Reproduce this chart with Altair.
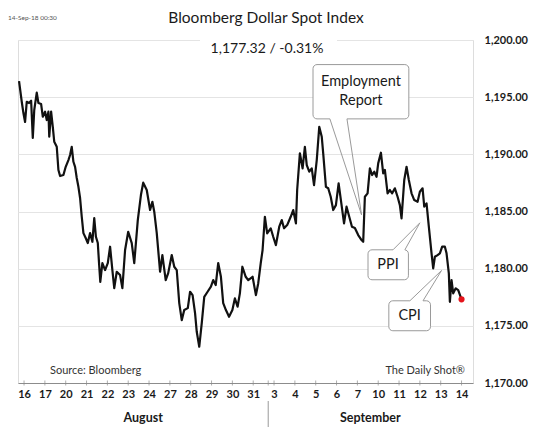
import altair as alt
import pandas as pd

# ---- data ----
day_labels = ["16", "17", "20", "21", "22", "23", "24", "27", "28", "29", "30", "31",
              "3", "4", "5", "6", "7", "10", "11", "12", "13", "14"]

# time in trading days (0 = Aug 16 00:00, 21 = Sep 14 00:00)
t_vals = [-0.24, -0.11, -0.03, 0.05, 0.13, 0.24, 0.34, 0.42, 0.49, 0.61,
          0.69, 0.82, 0.90, 1.01, 1.09, 1.17, 1.21, 1.30, 1.38, 1.45,
          1.57, 1.65, 1.73, 1.89, 2.00, 2.13, 2.21, 2.29, 2.37, 2.45,
          2.53, 2.61, 2.69, 2.77, 2.85, 2.96, 3.06, 3.17, 3.28, 3.37,
          3.45, 3.54, 3.60, 3.66, 3.76, 3.89, 4.02, 4.13, 4.24, 4.33,
          4.45, 4.61, 4.72, 4.85, 5.00, 5.17, 5.29, 5.46, 5.61, 5.72,
          5.89, 6.05, 6.16, 6.25, 6.37, 6.53, 6.64, 6.80, 6.92, 7.09,
          7.21, 7.33, 7.45, 7.57, 7.69, 7.86, 7.97, 8.09, 8.21, 8.29,
          8.41, 8.53, 8.65, 8.81, 8.97, 9.08, 9.20, 9.32, 9.45, 9.56,
          9.69, 9.84, 10.00, 10.12, 10.25, 10.36, 10.48, 10.64, 10.76, 10.97,
          11.13, 11.24, 11.36, 11.45, 11.56, 11.67, 11.84, 11.96, 12.09, 12.25,
          12.37, 12.48, 12.63, 12.80, 12.92, 13.05, 13.11, 13.24, 13.37, 13.48,
          13.57, 13.69, 13.81, 13.92, 14.05, 14.17, 14.29, 14.36, 14.49, 14.60,
          14.72, 14.84, 14.97, 15.10, 15.23, 15.36, 15.48, 15.61, 15.74, 15.88,
          16.04, 16.20, 16.28, 16.36, 16.49, 16.60, 16.71, 16.81, 16.92, 17.00,
          17.13, 17.24, 17.32, 17.45, 17.56, 17.67, 17.80, 17.93, 18.04, 18.12,
          18.25, 18.36, 18.47, 18.60, 18.73, 18.89, 19.00, 19.13, 19.21, 19.32,
          19.43, 19.56, 19.64, 19.72, 19.85, 19.96, 20.07, 20.20, 20.28, 20.39,
          20.44, 20.52, 20.60, 20.72, 20.84, 21.00]

index_vals = [1196.41, 1194.60, 1193.61, 1192.83, 1194.60, 1194.49, 1194.69, 1191.43, 1193.88, 1195.39,
              1194.49, 1194.40, 1193.29, 1193.73, 1193.00, 1193.73, 1191.54, 1193.73, 1192.41, 1191.10,
              1190.66, 1188.63, 1188.10, 1188.19, 1188.91, 1189.50, 1189.94, 1190.66, 1189.35, 1188.91,
              1187.93, 1187.16, 1186.18, 1184.54, 1183.11, 1182.68, 1182.24, 1183.11, 1182.35, 1184.43,
              1182.79, 1182.24, 1180.49, 1178.85, 1180.49, 1179.88, 1180.49, 1181.92, 1179.88, 1178.30,
              1179.73, 1179.44, 1178.30, 1181.63, 1183.23, 1182.24, 1180.49, 1184.25, 1186.44, 1187.52,
              1186.88, 1185.13, 1185.85, 1184.98, 1183.11, 1179.73, 1181.19, 1179.00, 1179.61, 1181.19,
              1180.17, 1179.88, 1176.99, 1175.50, 1176.38, 1176.55, 1177.98, 1177.69, 1176.09, 1174.48,
              1173.17, 1175.24, 1177.54, 1177.98, 1178.42, 1179.00, 1178.56, 1180.49, 1179.29, 1176.99,
              1176.38, 1175.79, 1176.38, 1177.40, 1176.67, 1177.84, 1180.17, 1179.29, 1179.00, 1179.29,
              1177.69, 1178.71, 1180.46, 1181.63, 1184.54, 1183.09, 1183.53, 1182.79, 1182.06, 1183.67,
              1184.25, 1183.53, 1183.81, 1184.54, 1185.13, 1183.96, 1186.88, 1190.09, 1188.77, 1190.66,
              1189.06, 1188.48, 1188.77, 1187.31, 1189.50, 1192.41, 1191.54, 1190.09, 1187.16, 1187.03,
              1186.29, 1185.13, 1185.56, 1187.46, 1185.71, 1183.96, 1185.42, 1184.54, 1183.67, 1183.55,
              1182.94, 1182.50, 1182.35, 1186.29, 1186.59, 1188.77, 1188.19, 1188.48, 1188.04, 1189.21,
              1190.14, 1188.34, 1188.63, 1186.59, 1186.88, 1186.59, 1187.03, 1186.29, 1185.56, 1184.40,
              1187.75, 1188.91, 1187.75, 1186.59, 1186.00, 1185.85, 1186.73, 1187.03, 1185.42, 1185.71,
              1183.67, 1181.34, 1180.03, 1181.04, 1181.19, 1181.34, 1181.92, 1181.92, 1181.34, 1179.59,
              1177.10, 1179.00, 1177.84, 1178.28, 1178.13, 1177.32]

y_ticks = [1170, 1175, 1180, 1185, 1190, 1195, 1200]
month_names = ["August", "September"]
month_pos = [5.72, 16.62]
month_sep = [11.72]
extra_tick = [11.72]

# callouts: box (t1, t2, v_top, v_bottom), pointer base (b1, b2 at v_base), tip (tt, tv)
callout_names = ["Employment", "PPI", "CPI"]
box_t1 = [13.87, 16.51, 17.51]
box_t2 = [18.47, 18.45, 19.51]
box_vtop = [1197.85, 1181.65, 1177.19]
box_vbot = [1193.10, 1179.03, 1174.57]
base_t1 = [14.68, 17.71, 18.52]
base_t2 = [15.50, 18.28, 19.15]
base_v = [1193.10, 1181.65, 1177.19]
tip_t = [16.20, 19.00, 20.04]
tip_v = [1184.71, 1184.01, 1179.84]
text_lines = ["Employment", "Report", "PPI", "CPI"]
text_t = [16.17, 16.17, 17.47, 18.51]
text_v = [1196.33, 1194.70, 1180.30, 1175.88]

title_text = "Bloomberg Dollar Spot Index"
subtitle_text = "1,177.32  /  -0.31%"
stamp_text = "14-Sep-18 00:30"
source_text = "Source: Bloomberg"
brand_text = "The Daily Shot\u00ae"

# ---- chart ----
W, H = 455, 343
FONT = "Lato"
xs = alt.Scale(domain=[-0.29, 21.55], nice=False, zero=False)
ys = alt.Scale(domain=[1170, 1200], nice=False, zero=False)

label_expr = "[" + ",".join("'%s'" % d for d in day_labels) + "][round(datum.value)]"

x_axis = alt.Axis(values=list(range(len(day_labels))), labelExpr=label_expr, grid=False,
                  ticks=False, domainColor="#8c8c8c", domainWidth=1, labelFont=FONT,
                  labelFontWeight="bold", labelFontSize=11, labelColor="#1a1a1a",
                  labelPadding=5, title=None, labelFlush=False, labelOverlap=False)
y_axis = alt.Axis(orient="right", values=y_ticks, format=",.2f", grid=True,
                  gridColor="#e4e4e4", gridWidth=1, domain=False, ticks=False,
                  labelPadding=11, labelFont=FONT, labelFontWeight="bold",
                  labelFontSize=11, labelColor="#1a1a1a", title=None, labelFlush=False,
                  labelAlign="left")


def X(field):
    return alt.X(field, scale=xs, axis=x_axis)


def Y(field):
    return alt.Y(field, scale=ys, axis=y_axis)


df = pd.DataFrame({"t": t_vals, "v": index_vals})

line = alt.Chart(df).mark_line(color="#111111", strokeWidth=2.2, strokeJoin="round").encode(
    x=X("t:Q"), y=Y("v:Q"))

last = alt.Chart(df.tail(1)).mark_circle(color="#e5141b", size=38, opacity=1).encode(
    x=X("t:Q"), y=Y("v:Q"))

tick_df = pd.DataFrame({"t": list(range(len(day_labels))) + extra_tick,
                        "v": [y_ticks[0]] * (len(day_labels) + len(extra_tick))})
ticks = alt.Chart(tick_df).mark_tick(orient="vertical", size=5, thickness=1, color="#8c8c8c").encode(
    x=X("t:Q"), y=Y("v:Q"))

sep = alt.Chart(pd.DataFrame({"t": month_sep})).mark_rule(color="#9a9a9a", strokeWidth=1).encode(
    x=X("t:Q"), y=alt.value(H + 18), y2=alt.value(H + 44))

months = alt.Chart(pd.DataFrame({"t": month_pos, "m": month_names})).mark_text(
    font=FONT, fontSize=12.5, fontWeight="bold", color="#1a1a1a", baseline="middle").encode(
    x=X("t:Q"), y=alt.value(H + 35), text="m:N")

# white backing behind the subtitle, interrupting the top grid line
sub_bg = alt.Chart(pd.DataFrame({"a": [0]})).mark_rect(color="white").encode(
    x=alt.value(182), x2=alt.value(319), y=alt.value(-3), y2=alt.value(3))


def label(text, x, y, size, align="center", weight="normal", color="#1a1a1a"):
    return alt.Chart(pd.DataFrame({"s": [text]})).mark_text(
        font=FONT, fontSize=size, fontWeight=weight, color=color, align=align,
        baseline="middle").encode(x=alt.value(x), y=alt.value(y), text="s:N")


title = label(title_text, 248, -22, 15.5)
subtitle = label(subtitle_text, 249, 9, 14)
stamp = label(stamp_text, -10, -22, 6.5, align="left", color="#555555")
source = label(source_text, 32, H - 12.5, 11, align="left", color="#333333")
brand = label(brand_text, 447, H - 12.5, 11, align="right", color="#333333")

box_df = pd.DataFrame({"n": callout_names, "t1": box_t1, "t2": box_t2,
                       "v1": box_vtop, "v2": box_vbot})
boxes = alt.Chart(box_df).mark_rect(fill="white", stroke="#9a9a9a", strokeWidth=1,
                                    cornerRadius=4).encode(
    x=X("t1:Q"), x2="t2:Q", y=Y("v1:Q"), y2="v2:Q")

gap_df = pd.DataFrame({"a": base_t1, "b": base_t2, "v": base_v})
gaps = alt.Chart(gap_df).mark_rule(color="white", strokeWidth=3).encode(
    x=X("a:Q"), x2="b:Q", y=Y("v:Q"), y2="v:Q")

ptr_df = pd.DataFrame({"x1": base_t1 + base_t2, "y1": base_v + base_v,
                       "x2": tip_t + tip_t, "y2": tip_v + tip_v})
pointers = alt.Chart(ptr_df).mark_rule(color="#9a9a9a", strokeWidth=1).encode(
    x=X("x1:Q"), x2="x2:Q", y=Y("y1:Q"), y2="y2:Q")

txt_df = pd.DataFrame({"t": text_t, "v": text_v, "s": text_lines})
texts = alt.Chart(txt_df).mark_text(font=FONT, fontSize=14.5, color="#1a1a1a",
                                    baseline="middle").encode(
    x=X("t:Q"), y=Y("v:Q"), text="s:N")

chart = alt.layer(
    line, sub_bg, last, ticks, sep, months, boxes, gaps, pointers, texts,
    title, subtitle, stamp, source, brand,
).properties(
    width=W, height=H,
    padding={"left": 10, "top": 32, "right": 59, "bottom": 49},
    autosize=alt.AutoSizeParams(type="none"),
).configure_view(stroke=None).configure(background="white")

chart.save("out.html", embed_options={"renderer": "svg", "actions": False})
